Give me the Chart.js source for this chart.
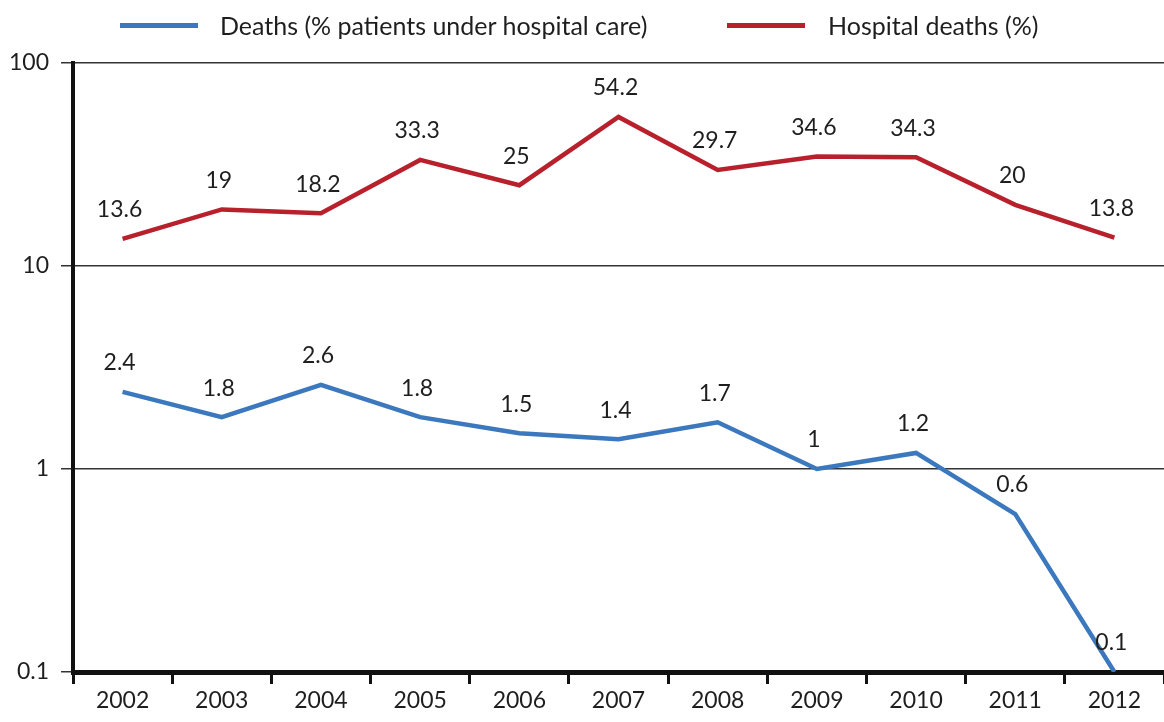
<!DOCTYPE html>
<html>
<head>
<meta charset="utf-8">
<script src="https://cdn.jsdelivr.net/npm/chart.js@4"></script>
<style>
  body { margin: 0; background: #fff; font-family: Lato, sans-serif; }
  #wrap { position: relative; width: 1164px; height: 722px; }
  .swatch { position: absolute; height: 5px; width: 78px; top: 23px; }
  .ltext { position: absolute; top: 10px; font-size: 25px; color: #1e1e1e; line-height: 30px; white-space: nowrap; }
</style>
</head>
<body>
<div id="wrap">
  <canvas id="chart" width="1164" height="722"></canvas>
  <div class="swatch" style="left:120px;background:#3b78bd"></div>
  <div class="ltext" style="left:220px">Deaths (% patients under hospital care)</div>
  <div class="swatch" style="left:727px;background:#b8202c"></div>
  <div class="ltext" style="left:828px">Hospital deaths (%)</div>
</div>
<script>
// ===== Data =====
const years = ['2002', '2003', '2004', '2005', '2006', '2007', '2008', '2009', '2010', '2011', '2012'];
const deathsUnderCare = [2.4, 1.8, 2.6, 1.8, 1.5, 1.4, 1.7, 1, 1.2, 0.6, 0.1];
const hospitalDeaths = [13.6, 19, 18.2, 33.3, 25, 54.2, 29.7, 34.6, 34.3, 20, 13.8];
const yTicks = [0.1, 1, 10, 100];

// ===== Value labels above points =====
const valueLabels = {
  id: 'valueLabels',
  afterDatasetsDraw(chart) {
    const ctx = chart.ctx;
    ctx.save();
    ctx.font = '23px Lato, sans-serif';
    ctx.fillStyle = '#1e1e1e';
    ctx.textAlign = 'center';
    ctx.textBaseline = 'middle';
    chart.data.datasets.forEach((ds, i) => {
      chart.getDatasetMeta(i).data.forEach((pt, j) => {
        ctx.fillText(String(ds.data[j]), pt.x - 3, pt.y - 29);
      });
    });
    ctx.restore();
  }
};

new Chart(document.getElementById('chart'), {
  type: 'line',
  data: {
    labels: years,
    datasets: [
      { label: 'Deaths (% patients under hospital care)', data: deathsUnderCare, borderColor: '#3b78bd', backgroundColor: '#3b78bd', borderWidth: 4.5, pointRadius: 0, tension: 0 },
      { label: 'Hospital deaths (%)', data: hospitalDeaths, borderColor: '#b8202c', backgroundColor: '#b8202c', borderWidth: 4.5, pointRadius: 0, tension: 0 }
    ]
  },
  options: {
    responsive: false,
    animation: false,
    layout: { padding: { top: 63, right: 0, left: 0, bottom: 0 } },
    plugins: { legend: { display: false }, tooltip: { enabled: false } },
    scales: {
      x: {
        offset: true,
        grid: { offset: true, drawOnChartArea: false, tickLength: 12, color: '#111', lineWidth: 3 },
        border: { color: '#111', width: 5 },
        ticks: { font: { family: 'Lato', size: 23 }, color: '#1e1e1e', padding: 3, maxRotation: 0 },
        afterFit: s => { s.height = 50; }
      },
      y: {
        type: 'logarithmic',
        min: 0.1,
        max: 100,
        afterBuildTicks: s => { s.ticks = yTicks.map(v => ({ value: v })); },
        afterFit: s => { s.width = 73; },
        ticks: { font: { family: 'Lato', size: 23 }, color: '#1e1e1e', padding: 12, callback: v => String(v) },
        grid: { color: '#333', lineWidth: 1.5, tickLength: 12 },
        border: { color: '#111', width: 4 }
      }
    }
  },
  plugins: [valueLabels]
});
</script>
</body>
</html>
